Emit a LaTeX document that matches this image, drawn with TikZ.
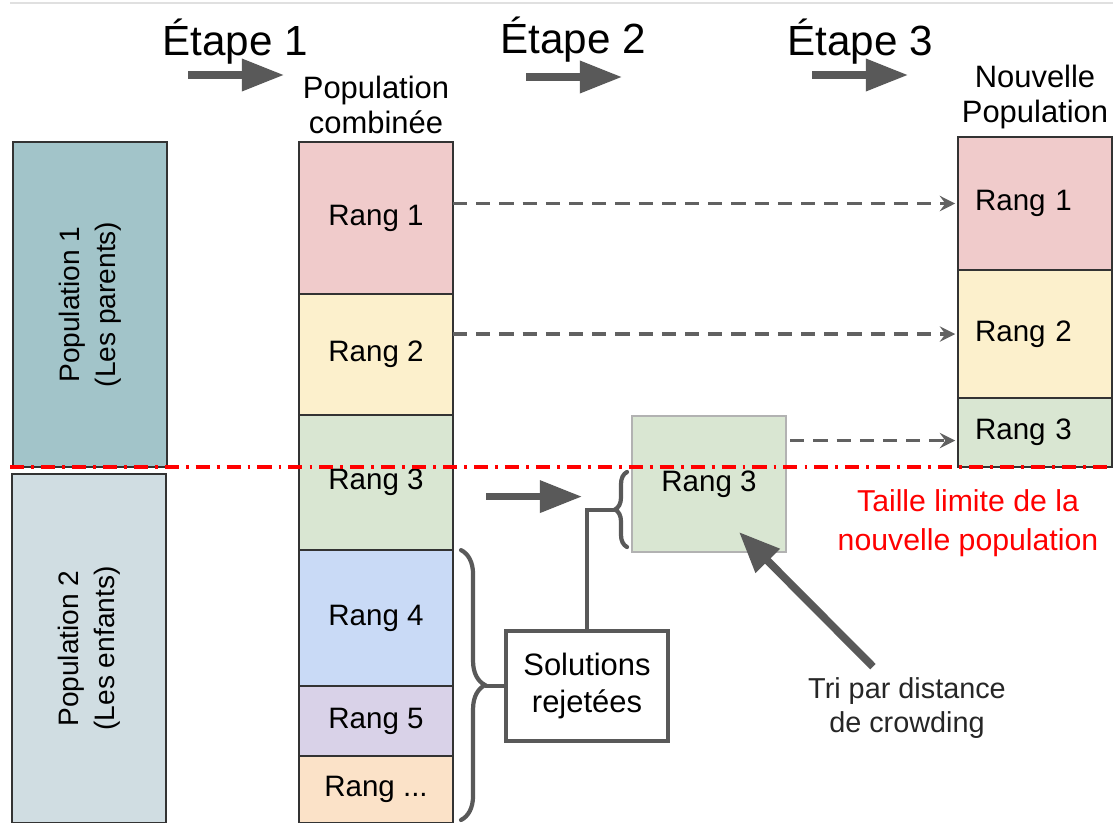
\documentclass[tikz,border=0pt]{standalone}
\usepackage{fontspec}
\setmainfont{Liberation Sans}
\usepackage{tikz}
\usetikzlibrary{positioning}
\usetikzlibrary{arrows.meta}
\usetikzlibrary{decorations.pathreplacing}

\definecolor{popA}{HTML}{A2C4C9}
\definecolor{popB}{HTML}{D0DDE2}
\definecolor{rangA}{HTML}{F0CBCB}
\definecolor{rangB}{HTML}{FCF0CC}
\definecolor{rangC}{HTML}{D9E6D2}
\definecolor{rangD}{HTML}{C9DAF6}
\definecolor{rangE}{HTML}{D9D2E8}
\definecolor{rangF}{HTML}{FBE2C8}
\definecolor{grisFleche}{HTML}{595959}

\begin{document}
\begin{tikzpicture}[x=0.025cm, y=-0.025cm,
  rang/.style={draw=black!80, line width=1.1pt, minimum width=3.85cm, inner sep=0pt, outer sep=0pt, font=\fontsize{21}{25}\selectfont},
  nouvrang/.style={rang, align=left, text width=3cm, inner xsep=0.425cm},
  popbox/.style={draw=black!80, line width=1.1pt, minimum height=3.85cm, rotate=90, align=center, inner sep=0pt, font=\fontsize{20}{25.5}\selectfont},
  titre/.style={font=\fontsize{30}{36}\selectfont},
  entete/.style={align=center, font=\fontsize{22}{24.5}\selectfont},
  etapefleche/.style={grisFleche, line width=5pt, -{Triangle[length=30pt,width=22pt]}},
  copie/.style={black!62, line width=2.3pt, dash pattern=on 10pt off 6.5pt, shorten >=2pt, -{Stealth[length=11pt,width=11pt,inset=4pt]}},
  limite/.style={red, line width=2.2pt, dash pattern=on 10pt off 5pt on 2pt off 5pt},
  accolade/.style={grisFleche, line width=3pt, line cap=round, decorate},
  lien/.style={grisFleche, line width=3pt}]
\useasboundingbox (0,0) rectangle (1113,823);

\draw[black!12, line width=0.8pt] (10,3) -- (1113,3);

% titres des etapes
\node[titre] (etape1) at (235,42) {Étape 1};
\node[titre] (etape2) at (573,40) {Étape 2};
\node[titre] (etape3) at (860,42) {Étape 3};
\coordinate (f1a) at (188,75); \coordinate (f1b) at (284,75);
\coordinate (f2a) at (526,77); \coordinate (f2b) at (622,77);
\coordinate (f3a) at (812,75); \coordinate (f3b) at (908,75);
\draw[etapefleche] (f1a) -- (f1b);
\draw[etapefleche] (f2a) -- (f2b);
\draw[etapefleche] (f3a) -- (f3b);

% populations de depart
\node[popbox, fill=popA, minimum width=8.125cm] (pop1) at (90,304.5) {Population 1\\(Les parents)};
\node[popbox, fill=popB, minimum width=8.725cm] (pop2) at (89,648.5) {Population 2\\(Les enfants)};

% population combinee
\node[entete] (combi) at (376,105) {Population\\combinée};
\node[rang, fill=rangA, minimum height=3.8cm, anchor=north west] (r1) at (299,142) {Rang 1};
\node[rang, fill=rangB, minimum height=3.025cm, below=0pt of r1] (r2) {Rang 2};
\node[rang, fill=rangC, minimum height=3.375cm, below=0pt of r2] (r3) {Rang 3};
\node[rang, fill=rangD, minimum height=3.4cm, below=0pt of r3] (r4) {Rang 4};
\node[rang, fill=rangE, minimum height=1.75cm, below=0pt of r4] (r5) {Rang 5};
\node[rang, fill=rangF, minimum height=1.675cm, below=0pt of r5] (rdots) {Rang ...};

% nouvelle population
\node[entete] (nouv) at (1035,97) {Nouvelle\\Population};
\node[nouvrang, fill=rangA, minimum height=3.325cm, anchor=north west] (n1) at (958,137) {Rang 1};
\node[nouvrang, fill=rangB, minimum height=3.2cm, below=0pt of n1] (n2) {Rang 2};
\node[nouvrang, fill=rangC, minimum height=1.725cm, below=0pt of n2] (n3) {Rang 3};

% rang 3 trie
\node[rang, draw=black!30, fill=rangC, minimum height=3.4cm, anchor=north west] (s3) at (632,416) {Rang 3};
\node[draw=grisFleche, line width=2.2pt, minimum width=4.05cm, minimum height=2.75cm, align=center, font=\fontsize{22}{26}\selectfont] (sol) at (587,686) {Solutions\\rejetées};
\node[align=center, text=black!85, font=\fontsize{20.5}{24}\selectfont] (tri) at (907,708) {Tri par distance\\de crowding};
\node[align=center, text=red, font=\fontsize{21.5}{28}\selectfont] (taille) at (968,523) {Taille limite de la\\nouvelle population};

% copies vers la nouvelle population
\draw[copie] (n1.west -| r1.east) -- (n1.west);
\draw[copie] (n2.west -| r2.east) -- (n2.west);
\draw[copie] ([xshift=3pt, yshift=-0.2cm]n3.west -| s3.east) -- ([yshift=-0.2cm]n3.west);

% rang 3 vers le tri
\draw[etapefleche] ([xshift=0.825cm, yshift=-0.35cm]r3.east) -- ([xshift=-1.25cm, yshift=-0.35cm]r3.east -| s3.west);
\draw[grisFleche, line width=5.5pt, -{Triangle[length=29pt,width=23pt]}] ([xshift=-0.85cm, yshift=0.15cm]tri.north) -- ([xshift=0.75cm, yshift=0.5cm]s3.south);

% accolades
\coordinate (sbA) at (627,547); \coordinate (sbB) at (627,472);
\coordinate (sbtip) at (615,510);
\draw[accolade, decoration={brace, amplitude=0.3cm}] (sbA) -- (sbB);
\draw[lien] (sbtip) -| (sol.north);
\draw[accolade, decoration={brace, amplitude=0.6cm}] ([xshift=0.2cm]r4.north east) -- ([xshift=0.2cm, yshift=0.08cm]rdots.south east);
\coordinate (bbtip) at ([xshift=0.8cm]r4.north east |- sol.west);
\draw[lien] (bbtip) -- (sol.west);

% limite
\coordinate (limA) at (10,467); \coordinate (limB) at (1113,467);
\draw[limite] (limA) -- (limB);
\end{tikzpicture}
\end{document}
